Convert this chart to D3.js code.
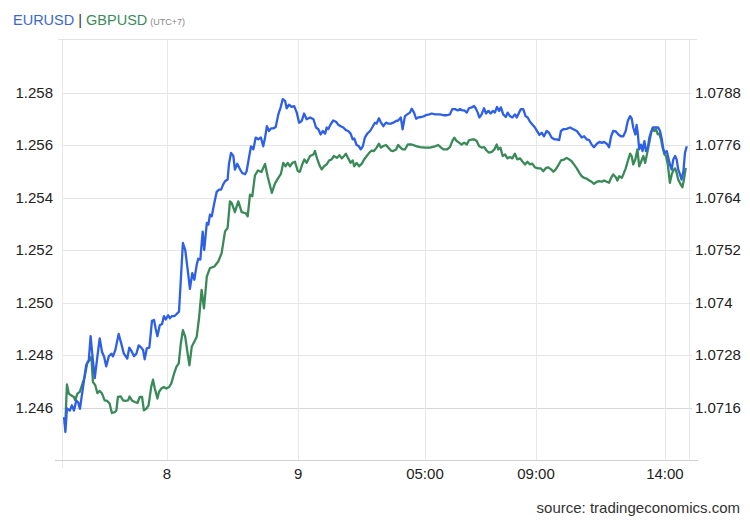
<!DOCTYPE html>
<html><head><meta charset="utf-8">
<script src="https://cdn.jsdelivr.net/npm/d3@7"></script>
<style>
html,body{margin:0;padding:0;background:#fff;}
svg{display:block;font-family:"Liberation Sans",Arial,sans-serif;}
</style></head>
<body><svg id="c" width="750" height="520"></svg>
<script>
// ---- data (hours since start of window, price) ----
const eurT = [0.08,0.13,0.19,0.30,0.38,0.46,0.55,0.62,0.69,0.81,0.93,1.03,1.10,1.18,1.26,1.36,1.45,1.54,1.62,1.70,1.80,1.90,1.96,2.05,2.18,2.28,2.38,2.51,2.59,2.69,2.77,2.86,2.95,3.05,3.12,3.18,3.26,3.36,3.46,3.54,3.60,3.67,3.76,3.85,3.92,3.99,4.08,4.15,4.23,4.33,4.43,4.50,4.57,4.65,4.74,4.85,4.92,5.01,5.09,5.18,5.24,5.32,5.41,5.47,5.57,5.63,5.69,5.76,5.86,5.95,6.04,6.12,6.20,6.27,6.37,6.42,6.50,6.59,6.65,6.74,6.85,6.93,7.04,7.10,7.19,7.27,7.36,7.45,7.55,7.65,7.74,7.81,7.88,7.96,8.04,8.13,8.22,8.32,8.41,8.49,8.58,8.64,8.73,8.83,8.93,9.03,9.12,9.22,9.31,9.41,9.54,9.67,9.77,9.86,9.95,10.03,10.12,10.18,10.24,10.33,10.43,10.54,10.63,10.72,10.82,10.92,11.01,11.10,11.18,11.24,11.33,11.42,11.49,11.57,11.65,11.74,11.85,11.93,12.04,12.10,12.19,12.27,12.36,12.46,12.55,12.65,12.74,12.85,12.93,13.03,13.10,13.19,13.28,13.38,13.45,13.54,13.62,13.70,13.83,13.93,14.03,14.13,14.22,14.35,14.54,14.67,14.80,14.92,15.01,15.12,15.22,15.31,15.40,15.47,15.57,15.65,15.76,15.85,15.91,15.99,16.05,16.14,16.23,16.31,16.40,16.49,16.57,16.65,16.73,16.81,16.88,16.97,17.07,17.14,17.23,17.32,17.42,17.49,17.58,17.65,17.74,17.83,17.91,18.00,18.09,18.19,18.28,18.36,18.45,18.54,18.64,18.73,18.83,18.93,19.03,19.12,19.19,19.28,19.41,19.54,19.67,19.80,19.90,19.99,20.08,20.18,20.28,20.37,20.46,20.57,20.67,20.76,20.85,20.95,21.04,21.12,21.20,21.30,21.40,21.49,21.59,21.68,21.76,21.85,21.91,21.97,22.05,22.10,22.15,22.20,22.27,22.33,22.40,22.46,22.53,22.59,22.67,22.74,22.85,22.93,23.00,23.07,23.13,23.19,23.26,23.32,23.38,23.45,23.51,23.58,23.64,23.70,23.77,23.83,23.90,23.96,24.03];
const eurV = [1.07138,1.07104,1.07158,1.07153,1.07165,1.07153,1.07176,1.07172,1.07157,1.07207,1.07257,1.07268,1.07323,1.07273,1.07227,1.07276,1.07318,1.07287,1.07276,1.07254,1.07277,1.07283,1.07277,1.07291,1.07328,1.07306,1.07283,1.07272,1.07297,1.07287,1.07277,1.07283,1.07302,1.07297,1.07291,1.07270,1.07295,1.07297,1.07358,1.07360,1.07341,1.07323,1.07348,1.07351,1.07369,1.07361,1.07371,1.07364,1.07369,1.07369,1.07375,1.07379,1.07452,1.07536,1.07520,1.07467,1.07431,1.07467,1.07452,1.07486,1.07500,1.07498,1.07562,1.07520,1.07582,1.07578,1.07601,1.07597,1.07628,1.07653,1.07658,1.07658,1.07670,1.07677,1.07681,1.07716,1.07742,1.07735,1.07704,1.07717,1.07704,1.07696,1.07693,1.07700,1.07731,1.07757,1.07750,1.07777,1.07773,1.07777,1.07757,1.07777,1.07803,1.07792,1.07798,1.07798,1.07801,1.07830,1.07846,1.07865,1.07861,1.07844,1.07852,1.07847,1.07849,1.07834,1.07811,1.07815,1.07832,1.07819,1.07823,1.07819,1.07800,1.07796,1.07784,1.07792,1.07786,1.07800,1.07796,1.07807,1.07816,1.07813,1.07806,1.07803,1.07800,1.07794,1.07792,1.07786,1.07773,1.07775,1.07760,1.07757,1.07750,1.07757,1.07777,1.07786,1.07792,1.07800,1.07811,1.07809,1.07821,1.07811,1.07803,1.07811,1.07809,1.07809,1.07811,1.07815,1.07816,1.07823,1.07796,1.07826,1.07830,1.07834,1.07843,1.07834,1.07820,1.07823,1.07824,1.07826,1.07829,1.07830,1.07832,1.07830,1.07830,1.07828,1.07828,1.07830,1.07842,1.07842,1.07839,1.07842,1.07839,1.07839,1.07834,1.07844,1.07846,1.07849,1.07844,1.07834,1.07823,1.07830,1.07844,1.07832,1.07838,1.07832,1.07838,1.07834,1.07847,1.07838,1.07846,1.07830,1.07824,1.07834,1.07826,1.07823,1.07830,1.07823,1.07834,1.07842,1.07842,1.07826,1.07823,1.07813,1.07807,1.07800,1.07791,1.07783,1.07788,1.07780,1.07792,1.07788,1.07777,1.07773,1.07773,1.07771,1.07792,1.07796,1.07797,1.07800,1.07796,1.07792,1.07784,1.07777,1.07780,1.07773,1.07771,1.07761,1.07755,1.07763,1.07767,1.07765,1.07767,1.07763,1.07755,1.07780,1.07792,1.07791,1.07784,1.07780,1.07780,1.07792,1.07815,1.07826,1.07821,1.07800,1.07784,1.07806,1.07784,1.07750,1.07761,1.07746,1.07769,1.07746,1.07754,1.07777,1.07792,1.07800,1.07800,1.07800,1.07792,1.07773,1.07750,1.07742,1.07746,1.07731,1.07716,1.07704,1.07727,1.07735,1.07727,1.07704,1.07693,1.07681,1.07700,1.07742,1.07757];
const gbpT = [0.08,0.13,0.19,0.26,0.36,0.46,0.51,0.59,0.68,0.77,0.87,0.97,1.07,1.13,1.19,1.28,1.36,1.45,1.54,1.64,1.74,1.83,1.92,2.03,2.09,2.15,2.26,2.35,2.43,2.54,2.60,2.69,2.80,2.90,2.99,3.08,3.15,3.24,3.33,3.43,3.50,3.57,3.67,3.73,3.82,3.92,4.01,4.12,4.20,4.31,4.40,4.49,4.57,4.65,4.74,4.85,4.90,4.99,5.18,5.27,5.37,5.46,5.57,5.69,5.86,6.01,6.14,6.27,6.37,6.46,6.53,6.65,6.78,6.91,7.07,7.14,7.23,7.32,7.42,7.54,7.67,7.81,7.91,8.07,8.19,8.32,8.42,8.51,8.60,8.68,8.77,8.86,8.96,9.07,9.15,9.24,9.32,9.41,9.54,9.67,9.73,9.82,9.92,9.99,10.08,10.18,10.27,10.37,10.46,10.57,10.67,10.76,10.85,10.92,11.01,11.10,11.18,11.24,11.33,11.43,11.53,11.62,11.72,11.82,11.91,12.00,12.10,12.19,12.27,12.36,12.46,12.55,12.65,12.74,12.85,12.93,13.00,13.10,13.19,13.30,13.45,13.62,13.77,13.96,14.15,14.35,14.47,14.58,14.67,14.80,14.92,15.01,15.09,15.18,15.27,15.37,15.47,15.57,15.65,15.76,15.86,15.95,16.04,16.14,16.24,16.33,16.42,16.53,16.63,16.72,16.78,16.86,16.95,17.04,17.13,17.23,17.32,17.42,17.51,17.62,17.70,17.81,17.90,18.00,18.09,18.19,18.32,18.42,18.51,18.62,18.70,18.81,18.90,18.99,19.09,19.19,19.28,19.41,19.51,19.60,19.69,19.80,19.90,19.99,20.08,20.18,20.28,20.37,20.46,20.57,20.67,20.76,20.85,20.95,21.04,21.12,21.20,21.30,21.36,21.43,21.53,21.59,21.68,21.76,21.85,21.91,21.97,22.05,22.13,22.20,22.28,22.36,22.43,22.51,22.59,22.65,22.72,22.78,22.85,22.91,22.97,23.04,23.10,23.17,23.23,23.30,23.38,23.45,23.51,23.58,23.64,23.70,23.80,23.86,23.92,23.99];
const gbpV = [1.24538,1.24544,1.24688,1.24653,1.24646,1.24640,1.24627,1.24653,1.24659,1.24685,1.24716,1.24768,1.24783,1.24793,1.24697,1.24685,1.24655,1.24663,1.24653,1.24627,1.24625,1.24615,1.24579,1.24582,1.24589,1.24640,1.24642,1.24627,1.24625,1.24627,1.24642,1.24627,1.24621,1.24617,1.24640,1.24640,1.24589,1.24595,1.24608,1.24678,1.24706,1.24672,1.24634,1.24659,1.24672,1.24678,1.24672,1.24678,1.24691,1.24729,1.24755,1.24768,1.24844,1.24895,1.24869,1.24793,1.24761,1.24831,1.24869,1.24940,1.25048,1.24978,1.25099,1.25131,1.25137,1.25156,1.25188,1.25271,1.25284,1.25385,1.25379,1.25344,1.25385,1.25344,1.25340,1.25328,1.25411,1.25405,1.25484,1.25503,1.25497,1.25528,1.25480,1.25418,1.25453,1.25475,1.25490,1.25532,1.25519,1.25532,1.25519,1.25532,1.25536,1.25500,1.25498,1.25526,1.25545,1.25532,1.25558,1.25564,1.25577,1.25545,1.25519,1.25507,1.25519,1.25526,1.25541,1.25545,1.25558,1.25551,1.25561,1.25549,1.25558,1.25567,1.25549,1.25532,1.25541,1.25519,1.25532,1.25519,1.25529,1.25545,1.25558,1.25571,1.25579,1.25577,1.25590,1.25605,1.25590,1.25596,1.25600,1.25590,1.25579,1.25577,1.25583,1.25600,1.25592,1.25583,1.25583,1.25602,1.25602,1.25596,1.25592,1.25590,1.25590,1.25595,1.25600,1.25590,1.25583,1.25583,1.25592,1.25615,1.25628,1.25615,1.25609,1.25602,1.25609,1.25602,1.25618,1.25621,1.25621,1.25615,1.25596,1.25590,1.25592,1.25579,1.25571,1.25574,1.25583,1.25602,1.25583,1.25590,1.25558,1.25564,1.25549,1.25554,1.25549,1.25567,1.25545,1.25549,1.25538,1.25526,1.25536,1.25526,1.25529,1.25515,1.25511,1.25511,1.25500,1.25513,1.25515,1.25507,1.25498,1.25507,1.25523,1.25541,1.25543,1.25551,1.25545,1.25538,1.25526,1.25511,1.25494,1.25481,1.25475,1.25472,1.25465,1.25460,1.25452,1.25460,1.25462,1.25460,1.25465,1.25460,1.25456,1.25475,1.25488,1.25477,1.25465,1.25481,1.25475,1.25488,1.25511,1.25538,1.25567,1.25558,1.25526,1.25545,1.25583,1.25519,1.25538,1.25558,1.25532,1.25571,1.25609,1.25643,1.25666,1.25653,1.25660,1.25641,1.25643,1.25621,1.25590,1.25564,1.25558,1.25526,1.25456,1.25488,1.25503,1.25511,1.25494,1.25468,1.25449,1.25439,1.25468,1.25513];

const xSpan = [0, 24.115];
const xTickHours = [4.04, 9.08, 13.96, 18.23, 23.19];
const xTickLabels = ["8", "9", "05:00", "09:00", "14:00"];
const leftDomain = [1.244, 1.260];
const leftTicks = [1.246, 1.248, 1.250, 1.252, 1.254, 1.256, 1.258];
const rightDomain = [1.0704, 1.0800];
const rightTicks = [1.0716, 1.0728, 1.0740, 1.0752, 1.0764, 1.0776, 1.0788];
const rightTickLabels = ["1.0716", "1.0728", "1.074", "1.0752", "1.0764", "1.0776", "1.0788"];

// ---- layout ----
const L = 62, R = 689, T = 40, B = 460;
const blue = "#2d60e6", green = "#3a8a59";
const svg = d3.select("#c");

const x = d3.scaleLinear().domain(xSpan).range([L, R]);
const yL = d3.scaleLinear().domain(leftDomain).range([B, T]);
const yR = d3.scaleLinear().domain(rightDomain).range([B, T]);

// horizontal gridlines
svg.append("g").selectAll("line").data(leftTicks).join("line")
  .attr("x1", L).attr("x2", R + 3)
  .attr("y1", d => Math.round(yL(d)) + 0.5).attr("y2", d => Math.round(yL(d)) + 0.5)
  .attr("stroke", (d, i) => i === 0 ? "#d6d6d6" : "#e6e6e6").attr("stroke-width", 1);
// top line
svg.append("line").attr("x1", L - 4).attr("x2", R + 8)
  .attr("y1", Math.round(yL(leftDomain[1])) - 0.5).attr("y2", Math.round(yL(leftDomain[1])) - 0.5)
  .attr("stroke", "#e3e3e3");

// vertical gridlines
const vlines = [xSpan[0]].concat(xTickHours, [xSpan[1]]);
svg.append("g").selectAll("line").data(vlines).join("line")
  .attr("x1", d => Math.round(x(d)) + 0.5).attr("x2", d => Math.round(x(d)) + 0.5)
  .attr("y1", T).attr("y2", (d, i) => i === 0 ? B + 8 : B)
  .attr("stroke", "#e8e8e8");

// bottom axis line
svg.append("line").attr("x1", L - 7).attr("x2", R + 9)
  .attr("y1", B + 0.5).attr("y2", B + 0.5).attr("stroke", "#d0d0d0");

// axis labels
const lab = "#222";
svg.append("g").selectAll("text").data(leftTicks).join("text")
  .attr("x", 53).attr("y", d => yL(d) + 5)
  .attr("text-anchor", "end").attr("font-size", 15).attr("fill", lab)
  .text(d => d3.format(".3f")(d));
svg.append("g").selectAll("text").data(rightTicks).join("text")
  .attr("x", 695).attr("y", d => yR(d) + 5)
  .attr("text-anchor", "start").attr("font-size", 15).attr("fill", lab)
  .text((d, i) => rightTickLabels[i]);
svg.append("g").selectAll("text").data(xTickHours).join("text")
  .attr("x", d => x(d)).attr("y", 479)
  .attr("text-anchor", "middle").attr("font-size", 15).attr("fill", lab)
  .text((d, i) => xTickLabels[i]);

// lines
const eur = eurT.map((t, i) => [t, eurV[i]]);
const gbp = gbpT.map((t, i) => [t, gbpV[i]]);
svg.append("path").datum(gbp)
  .attr("d", d3.line().x(d => x(d[0])).y(d => yL(d[1])))
  .attr("fill", "none").attr("stroke", green).attr("stroke-width", 2.3)
  .attr("stroke-linejoin", "round");
svg.append("path").datum(eur)
  .attr("d", d3.line().x(d => x(d[0])).y(d => yR(d[1])))
  .attr("fill", "none").attr("stroke", blue).attr("stroke-width", 2.3)
  .attr("stroke-linejoin", "round");

// title
const title = svg.append("text").attr("x", 13).attr("y", 25).attr("font-size", 14.5);
title.append("tspan").attr("fill", "#3b68d0").text("EURUSD");
title.append("tspan").attr("fill", "#333").text(" | ");
title.append("tspan").attr("fill", "#3d8b5c").text("GBPUSD");
title.append("tspan").attr("fill", "#888").attr("font-size", 9).attr("dx", 3).text("(UTC+7)");

// source
svg.append("text").attr("x", 740).attr("y", 513).attr("text-anchor", "end")
  .attr("font-size", 15).attr("fill", "#333").text("source: tradingeconomics.com");
</script></body></html>
